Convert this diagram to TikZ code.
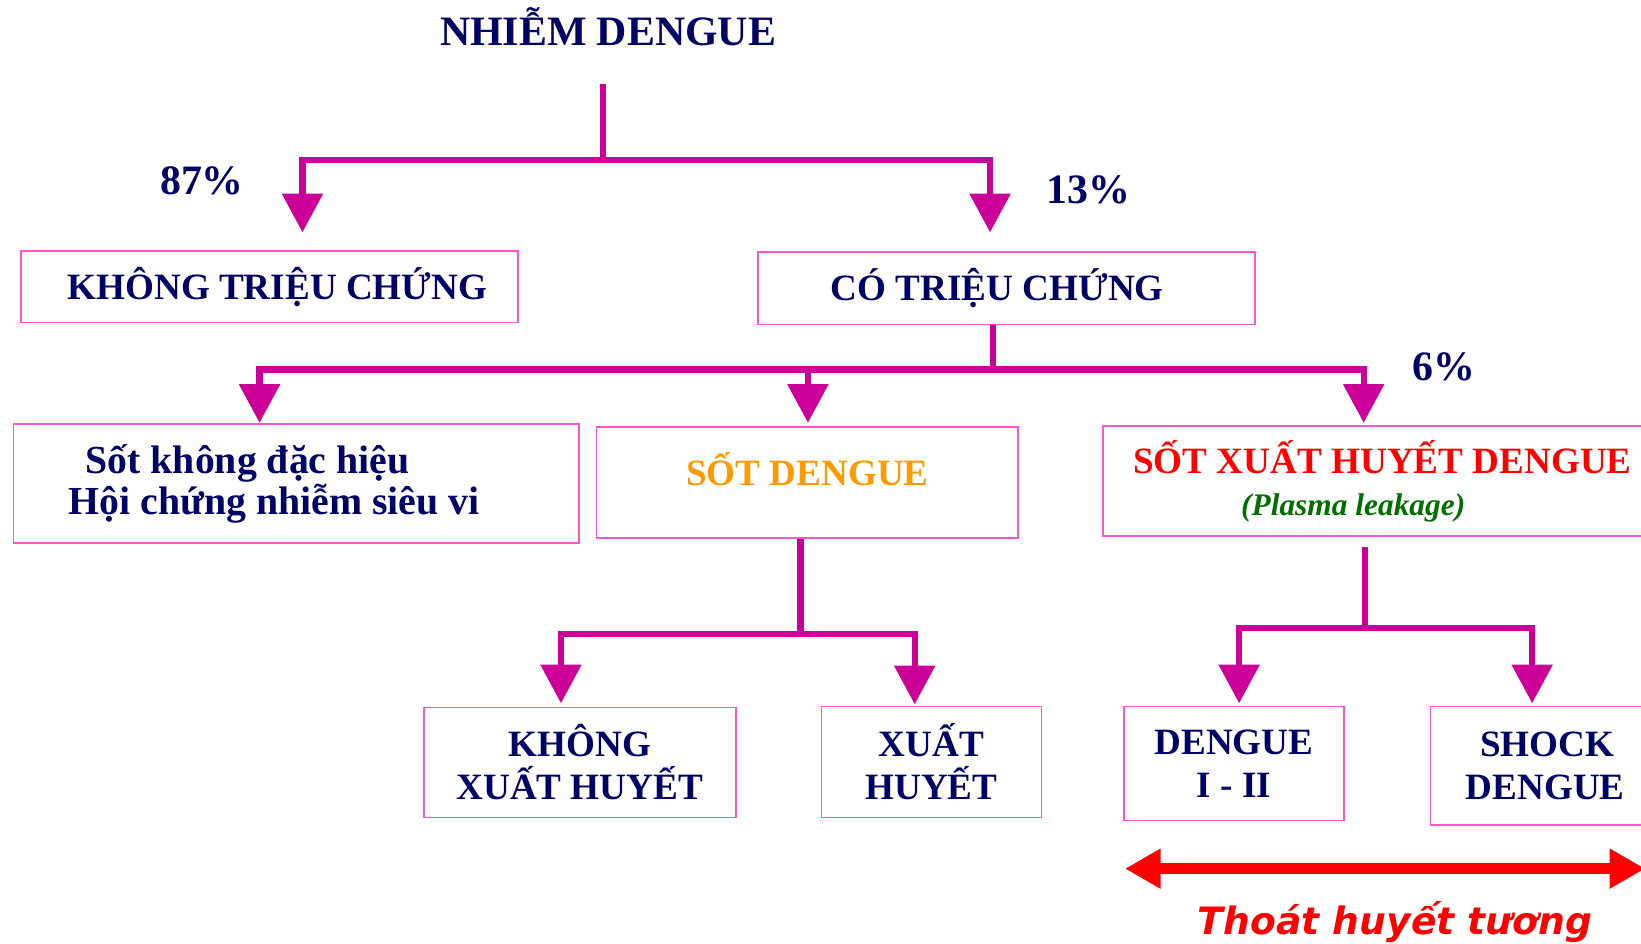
\documentclass[tikz,border=0pt]{standalone}
\usepackage{fontspec}
\setmainfont{Liberation Serif}
\newfontfamily\dvsans{DejaVu Sans}
\usetikzlibrary{arrows.meta,calc}
\definecolor{navy}{HTML}{000066}
\definecolor{mag}{HTML}{CC0099}
\definecolor{bpink}{HTML}{FF55CC}
\definecolor{orng}{HTML}{FF9900}
\definecolor{grn}{HTML}{006F00}
\definecolor{rd}{HTML}{FF0000}
\begin{document}
\begin{tikzpicture}[x=1pt,y=-1pt,
  box/.style={draw=bpink, line width=1.6pt, inner sep=0pt, align=center, text=navy,
    font=\bfseries\fontsize{35.5}{41}\selectfont},
  conn/.style={draw=mag, line width=6pt},
  arr/.style={conn, -{Triangle[width=38pt,length=37pt]}},
  pct/.style={text=navy, font=\bfseries\fontsize{40}{48}\selectfont, inner sep=0pt, anchor=base},
  redarr/.style={draw=rd, line width=11pt, {Triangle[width=36pt,length=34pt]}-{Triangle[width=36pt,length=34pt]}}]
\useasboundingbox (0,0) rectangle (1568,902);
\fill[white] (0,0) rectangle (1568,902);

% labels
\node[pct] (title) at (581,43) {NHIỄM DENGUE};
\node[pct] (p87) at (193,186) {87\%};
\node[pct] (p13) at (1040,194) {13\%};
\node[pct] (p6) at (1380,364) {6\%};

% boxes
\node[box, minimum width=475pt, minimum height=68pt] (ktc) at (257.5,274) {\hspace*{15pt}KHÔNG TRIỆU CHỨNG};
\node[box, minimum width=475pt, minimum height=69pt] (ctc) at (961.5,275.5) {CÓ TRIỆU CHỨNG\hspace*{17pt}};
\node[box, minimum width=540pt, minimum height=114pt, align=left,
  font=\bfseries\fontsize{38}{39}\selectfont] (skdh) at (283,462)
  {\hspace*{16pt}Sốt không đặc hiệu\\Hội chứng nhiễm siêu vi\hspace*{42pt}};
\node[box, minimum width=403pt, minimum height=106pt, text=orng] (sd) at (771.5,461)
  {\raisebox{-3pt}[0pt][0pt]{SỐT DENGUE}};
\node[box, minimum width=534pt, minimum height=105pt, font=\bfseries\fontsize{35.5}{40}\selectfont] (sxh) at (1321,459.5)
  {\textcolor{rd}{SỐT XUẤT HUYẾT DENGUE}\\{\color{grn}\fontsize{30}{36}\selectfont\itshape (Plasma leakage)\hspace*{56pt}}};
\node[box, minimum width=298pt, minimum height=105pt] (kxh) at (554,728.5) {KHÔNG\\XUẤT HUYẾT};
\node[box, minimum width=210pt, minimum height=106pt] (xh) at (890,728) {XUẤT\\HUYẾT};
\node[box, minimum width=210pt, minimum height=109pt] (d12) at (1179,729.5) {DENGUE\\I - II};
\node[box, minimum width=223pt, minimum height=113pt] (shock) at (1478.5,731.5) {SHOCK\\DENGUE\hspace*{4pt}};

% junctions and arrow tips
\coordinate (j0) at ([yshift=-37pt]title.base);
\coordinate (j1) at (576,153);
\coordinate (t1) at (289,222);
\coordinate (t2) at (946,222);
\coordinate (j2) at (949,353);
\coordinate (t3) at (248,404);
\coordinate (t4) at (772,404);
\coordinate (t5) at (1303,404);
\coordinate (j3) at (765,606);
\coordinate (t6) at (536,672);
\coordinate (t7) at (874,673);
\coordinate (j4) at (1304,600);
\coordinate (t8) at (1184,672);
\coordinate (t9) at (1464,672);
\coordinate (ra) at (1075,830);
\coordinate (rb) at (1572,830);

% connectors
\draw[conn] (j0 -| j1) -- (j1);
\draw[arr] (j1) -| (t1);
\draw[arr] (j1) -| (t2);

\draw[conn] (ctc.south -| j2) -- (j2);
\draw[arr] (j2) -| (t3);
\draw[arr] (j2) -| (t5);
\draw[arr] (t4 |- j2) -- (t4);

\draw[conn] (sd.south -| j3) -- (j3);
\draw[arr] (j3) -| (t6);
\draw[arr] (j3) -| (t7);

\draw[conn] ([yshift=-10pt]sxh.south -| j4) -- (j4);
\draw[arr] (j4) -| (t8);
\draw[arr] (j4) -| (t9);

% plasma leakage span
\draw[redarr] (ra) -- (rb);
\node[text=rd, font=\dvsans\bfseries\itshape\fontsize{36}{43}\selectfont, inner sep=0pt, anchor=base] (tht) at (1333,893) {Thoát huyết tương};
\end{tikzpicture}
\end{document}
